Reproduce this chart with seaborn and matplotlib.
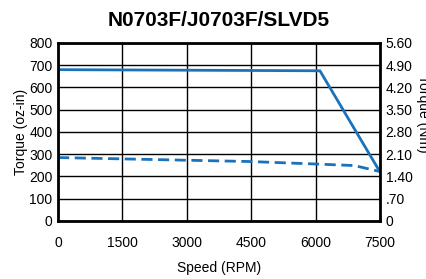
import numpy as np
import pandas as pd
import matplotlib
matplotlib.use("Agg")
import matplotlib.pyplot as plt
import seaborn as sns

# speed / torque curves
speed_peak = [0, 6100, 7500]
torque_peak = [680, 675, 220]
speed_cont = [0, 1500, 3000, 4500, 6000, 6900, 7500]
torque_cont = [285, 279, 273, 267, 256, 249, 222]

x_ticks = [0, 1500, 3000, 4500, 6000, 7500]
y_ticks = [0, 100, 200, 300, 400, 500, 600, 700, 800]
nm_labels = ["0", ".70", "1.40", "2.10", "2.80", "3.50", "4.20", "4.90", "5.60"]

sns.set_style("white", {"text.color": "black", "axes.labelcolor": "black",
                        "xtick.color": "black", "ytick.color": "black"})
plt.rcParams['font.family'] = ['Liberation Sans', 'DejaVu Sans']

peak_df = pd.DataFrame({"speed": speed_peak, "torque": torque_peak})
cont_df = pd.DataFrame({"speed": speed_cont, "torque": torque_cont})

fig = plt.figure(figsize=(4.27, 2.79), dpi=100)
ax = fig.add_axes([0.136, 0.208, 0.754, 0.638])
line_color = "#1a72bb"
sns.lineplot(data=peak_df, x="speed", y="torque", ax=ax, color=line_color, linewidth=2)
sns.lineplot(data=cont_df, x="speed", y="torque", ax=ax, color=line_color, linewidth=2,
             linestyle=(0, (4, 2)))

ax.set_xlim(0, 7500)
ax.set_ylim(0, 800)
ax.set_xticks(x_ticks)
ax.set_yticks(y_ticks)
ax.grid(True, color="black", linewidth=1)
for s in ax.spines.values():
    s.set_linewidth(2)
    s.set_color("black")
ax.tick_params(length=0, labelsize=10, pad=4)
ax.tick_params(axis="x", pad=11)
ax.set_xlabel("Speed (RPM)", fontsize=10, labelpad=8)
ax.set_ylabel("Torque (oz-in)", fontsize=10, labelpad=1)
ax.set_title("N0703F/J0703F/SLVD5", fontsize=15, fontweight="bold", pad=12)

ax2 = ax.twinx()
ax2.set_ylim(0, 800)
ax2.set_yticks(y_ticks)
ax2.set_yticklabels(nm_labels)
ax2.tick_params(length=0, labelsize=10, pad=4)
for s in ax2.spines.values():
    s.set_visible(False)
# the reference shows this label clipped at the right edge
ax2.set_ylabel("Torque (Nm)", fontsize=10, rotation=270, va="bottom")
ax2.yaxis.set_label_coords(1.112, 0.6)

fig.savefig("out.png", dpi=100)
